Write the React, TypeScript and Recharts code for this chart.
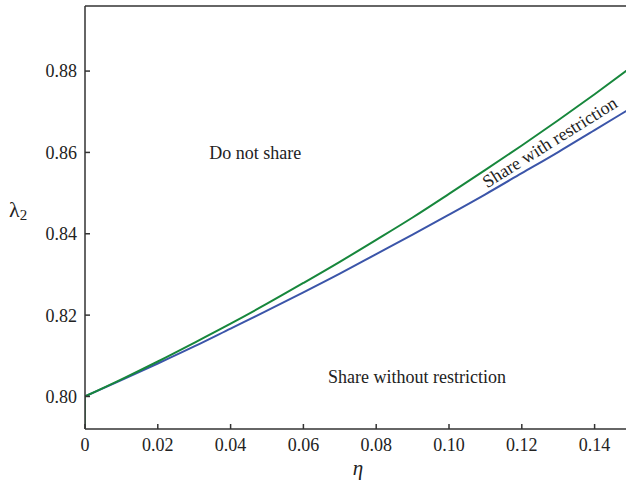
import React from 'react';
import { LineChart, Line, XAxis, YAxis, ReferenceDot } from 'recharts';

const etas = [0, 0.01, 0.02, 0.03, 0.04, 0.05, 0.06, 0.07, 0.08, 0.09, 0.10, 0.11, 0.12, 0.13, 0.14, 0.15];
const shareWithRestriction = [0.8000, 0.8042, 0.8086, 0.8132, 0.8179, 0.8228, 0.8279, 0.8331, 0.8385, 0.8440, 0.8498, 0.8557, 0.8617, 0.8679, 0.8743, 0.8809];
const shareWithoutRestriction = [0.8000, 0.8040, 0.8081, 0.8123, 0.8167, 0.8211, 0.8256, 0.8302, 0.8350, 0.8398, 0.8447, 0.8497, 0.8549, 0.8601, 0.8655, 0.8709];
const greenJumpEta = [0, 0];
const greenJumpValues = [0.7921, 0.8000];

const xTicks = [0, 0.02, 0.04, 0.06, 0.08, 0.10, 0.12, 0.14];
const yTicks = [0.80, 0.82, 0.84, 0.86, 0.88];

const regionLabels = [
  { text: 'Do not share', eta: 0.0468, lambda: 0.8598, angle: 0 },
  { text: 'Share without restriction', eta: 0.0912, lambda: 0.8047, angle: 0 },
  { text: 'Share with restriction', eta: 0.1277, lambda: 0.8625, angle: -32 },
];

const data = etas.map((e, i) => ({ eta: e, green: shareWithRestriction[i], blue: shareWithoutRestriction[i] }));
const jumpData = greenJumpEta.map((e, i) => ({ eta: e, green: greenJumpValues[i] }));

const FONT = '"Liberation Serif", "Times New Roman", serif';
const AXIS = '#333333';
const GREEN = '#17873c';
const BLUE = '#3b55a9';

const fmtX = (v: number) => (v === 0 ? '0' : v.toFixed(2));
const fmtY = (v: number) => v.toFixed(2);

const makeLabel = (text: string, angle: number) => (props: any) => {
  const vb = props.viewBox || {};
  const cx = (vb.x ?? 0) + (vb.width ?? 0) / 2;
  const cy = (vb.y ?? 0) + (vb.height ?? 0) / 2;
  return (
    <text
      x={cx}
      y={cy}
      textAnchor="middle"
      dominantBaseline="central"
      fontFamily={FONT}
      fontSize={18}
      fill="#222"
      transform={angle ? `rotate(${angle} ${cx} ${cy})` : undefined}
    >
      {text}
    </text>
  );
};

const YLabel = (props: any) => {
  const vb = props.viewBox || {};
  return (
    <text x={(vb.x ?? 0) + 9} y={217} fontFamily={FONT} fontSize={22} fill="#222">
      λ
      <tspan dx={0} dy={3} fontSize={15}>2</tspan>
    </text>
  );
};

const XLabel = (props: any) => {
  const vb = props.viewBox || {};
  const cx = (vb.x ?? 0) + (vb.width ?? 0) / 2;
  return (
    <text x={cx} y={475} textAnchor="middle" fontFamily={FONT} fontStyle="italic" fontSize={21} fill="#222">
      η
    </text>
  );
};

export default function App() {
  const tickStyle = { fontFamily: FONT, fontSize: 18, fill: '#222' };
  return (
    <div style={{ position: 'absolute', left: 0, top: 0, width: 626, height: 483, overflow: 'hidden', background: '#fff' }}>
      <LineChart width={640} height={483} data={data} margin={{ top: 0, right: 0, bottom: 0, left: 0 }}>
        <XAxis
          xAxisId="bottom"
          dataKey="eta"
          type="number"
          domain={[0, 0.15]}
          ticks={xTicks}
          tickFormatter={fmtX}
          orientation="bottom"
          height={54}
          tickSize={-5}
          tickMargin={14}
          stroke={AXIS}
          strokeWidth={1.5}
          tick={tickStyle}
          allowDataOverflow
          interval={0}
          label={{ content: XLabel }}
        />
        <XAxis
          xAxisId="top"
          dataKey="eta"
          type="number"
          domain={[0, 0.15]}
          ticks={xTicks}
          orientation="top"
          height={6}
          tickSize={-5}
          tick={false}
          stroke={AXIS}
          strokeWidth={1.5}
          allowDataOverflow
          interval={0}
        />
        <YAxis
          yAxisId="left"
          type="number"
          domain={[0.792, 0.896]}
          ticks={yTicks}
          tickFormatter={fmtY}
          orientation="left"
          width={85}
          tickSize={-5}
          tickMargin={13}
          stroke={AXIS}
          strokeWidth={1.5}
          tick={tickStyle}
          allowDataOverflow
          interval={0}
          label={{ content: YLabel }}
        />
        <YAxis
          yAxisId="right"
          type="number"
          domain={[0.792, 0.896]}
          ticks={yTicks}
          orientation="right"
          width={9}
          tickSize={-5}
          tick={false}
          stroke={AXIS}
          strokeWidth={1.5}
          allowDataOverflow
          interval={0}
        />
        <Line
          xAxisId="bottom"
          yAxisId="left"
          type="monotone"
          dataKey="blue"
          stroke={BLUE}
          strokeWidth={2}
          dot={false}
          isAnimationActive={false}
        />
        <Line
          xAxisId="bottom"
          yAxisId="left"
          type="monotone"
          dataKey="green"
          stroke={GREEN}
          strokeWidth={2}
          dot={false}
          isAnimationActive={false}
        />
        <Line
          xAxisId="bottom"
          yAxisId="left"
          data={jumpData}
          type="linear"
          dataKey="green"
          stroke={GREEN}
          strokeWidth={1.5}
          dot={false}
          isAnimationActive={false}
          legendType="none"
        />
        {regionLabels.map((l) => (
          <ReferenceDot
            key={l.text}
            xAxisId="bottom"
            yAxisId="left"
            x={l.eta}
            y={l.lambda}
            r={1}
            fill="none"
            stroke="none"
            label={{ content: makeLabel(l.text, l.angle) }}
          />
        ))}
      </LineChart>
    </div>
  );
}
